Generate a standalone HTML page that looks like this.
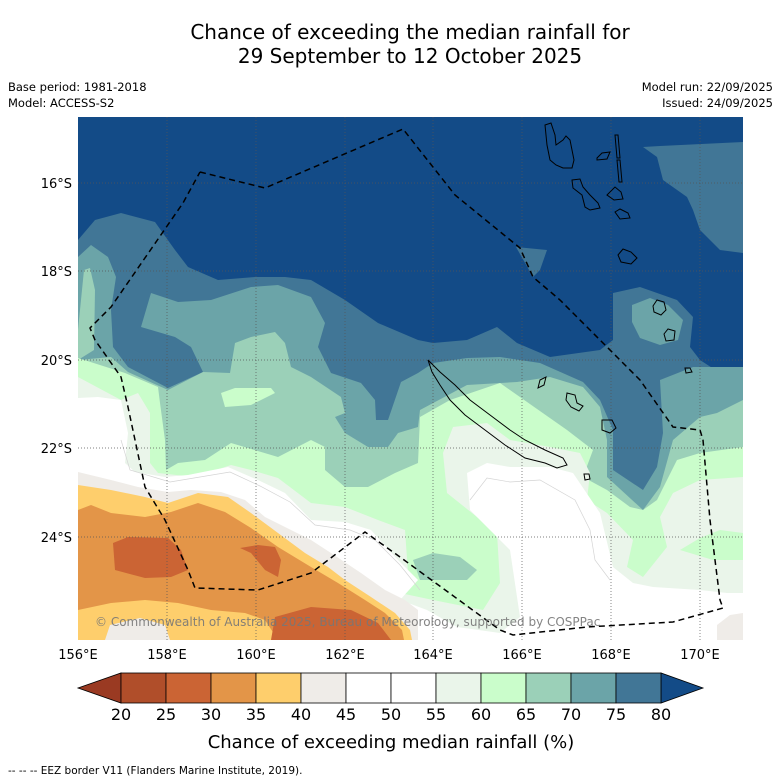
<!DOCTYPE html>
<html><head><meta charset="utf-8">
<style>
body{margin:0;background:#fff;}
svg{display:block;font-family:"DejaVu Sans","Liberation Sans",sans-serif;}
</style></head>
<body>
<svg width="781" height="781" viewBox="0 0 781 781" xmlns="http://www.w3.org/2000/svg">
<text x="410" y="39" font-size="20" text-anchor="middle">Chance of exceeding the median rainfall for</text>
<text x="410" y="63" font-size="20" text-anchor="middle">29 September to 12 October 2025</text>
<text x="8" y="91" font-size="11.5">Base period: 1981-2018</text>
<text x="8" y="107" font-size="11.5">Model: ACCESS-S2</text>
<text x="773" y="91" font-size="11.5" text-anchor="end">Model run: 22/09/2025</text>
<text x="773" y="107" font-size="11.5" text-anchor="end">Issued: 24/09/2025</text>

<defs><clipPath id="mc"><rect x="78" y="117" width="665" height="523"/></clipPath></defs>
<g clip-path="url(#mc)">
<rect x="78" y="117" width="665" height="523" fill="#134b87"/>
<polygon fill="#417696" points="78,240 95,220 121,213 155,222 175,250 188,267 218,280 255,277 285,277 311,280 345,300 378,323 418,340 433,343 467,340 497,327 517,343 550,357 600,350 613,340 613,293 640,287 677,300 693,317 690,347 700,360 720,373 743,377 743,700 78,700"/>
<polygon fill="#417696" points="643,147 660,146 743,142 743,253 720,250 700,230 693,210 687,197 663,180 657,157"/>
<polygon fill="#417696" points="516,247 547,250 540,270 533,277"/>
<polygon fill="#6ba4a8" points="78,257 91,245 108,257 116,277 111,310 113,347 128,367 168,388 203,372 191,347 175,337 141,327 151,293 178,302 211,300 251,287 278,285 311,297 325,323 318,347 331,373 361,383 375,400 376,420 388,420 401,382 418,373 433,363 467,358 500,357 540,363 583,382 600,400 613,430 613,470 643,490 657,467 663,433 660,380 693,367 743,367 743,700 78,700"/>
<polygon fill="#6ba4a8" points="632,305 650,298 668,305 683,320 678,340 660,345 640,338 632,322"/>
<polygon fill="#9bd0b8" points="78,330 84,270 90,268 95,290 94,350 78,360"/>
<polygon fill="#9bd0b8" points="78,360 111,357 128,372 168,390 203,372 230,373 235,343 251,337 275,332 285,343 291,367 311,377 341,397 345,413 335,417 345,433 368,447 388,447 398,433 418,427 420,410 467,385 517,382 550,377 583,387 600,407 607,440 607,477 643,510 660,487 673,440 700,417 717,413 743,400 743,700 78,700"/>
<polygon fill="#cafdcb" points="78,358 125,373 158,387 160,403 165,440 166,470 178,463 205,460 231,443 278,457 311,440 325,447 325,470 345,487 368,487 395,473 418,463 420,417 450,400 500,383 567,430 593,450 583,477 607,490 630,507 643,510 657,500 677,460 700,453 743,447 743,700 78,700"/>
<polygon fill="#cafdcb" points="221,393 235,388 271,388 275,393 251,405 225,407"/>
<polygon fill="#eaf5ea" points="78,377 121,400 138,393 150,413 150,463 158,473 195,477 231,465 251,470 278,478 311,503 345,507 378,520 405,530 408,573 418,580 400,593 433,600 483,610 500,583 497,533 447,493 443,453 453,427 487,423 510,440 550,447 580,453 590,473 587,500 607,513 633,540 627,567 643,577 667,547 660,517 673,493 700,480 743,477 743,700 78,700"/>
<polygon fill="#cafdcb" points="680,550 700,538 720,530 743,533 743,560 713,560"/>
<polygon fill="#9bd0b8" points="413,560 433,553 460,557 477,570 467,580 420,580"/>
<polygon fill="#ffffff" points="78,398 98,397 121,400 128,433 125,463 135,472 165,477 188,475 228,467 258,480 285,493 311,520 345,522 371,530 398,560 418,580 400,600 427,610 457,627 500,633 520,617 510,550 470,510 467,473 487,463 510,467 550,467 573,473 600,513 613,567 633,583 653,587 700,590 727,593 743,593 743,700 78,700"/>
<g fill="none" stroke="#d4d4d4" stroke-width="0.7">
<polyline points="121,440 130,470 170,482 230,472 260,486 290,502 315,525 350,530 375,540 400,565 420,590"/>
<polyline points="470,500 487,478 510,482 540,480 575,500 590,530 595,560 610,580"/>
</g>
<polygon fill="#efece8" points="78,472 111,480 138,487 168,492 191,490 221,492 245,500 265,517 291,530 311,540 331,553 361,573 385,590 405,600 418,610 418,640 78,640"/>
<polygon fill="#efece8" points="717,625 730,615 743,613 743,640 717,640"/>
<polygon fill="#fece6c" points="78,485 111,490 145,497 168,503 198,493 228,497 251,513 278,533 305,553 328,567 345,580 371,597 395,613 410,630 412,640 78,640"/>
<polygon fill="#e39548" points="78,510 91,505 111,513 145,517 171,512 198,503 225,512 251,528 278,547 311,567 338,583 365,600 385,613 402,630 404,640 278,640 265,620 245,613 211,610 178,603 145,600 111,603 78,610"/>
<polygon fill="#efece8" points="105,640 110,625 140,618 165,625 170,640"/>
<polygon fill="#cb6434" points="113,543 128,537 168,538 181,550 188,570 171,577 145,578 115,570"/>
<polygon fill="#cb6434" points="240,548 258,545 275,547 281,560 278,577 265,570 251,553"/>
<polygon fill="#cb6434" points="275,617 311,607 351,610 378,623 391,640 271,640"/>

<g stroke="#555" stroke-width="0.7" stroke-dasharray="1,2">
<line x1="167" y1="117" x2="167" y2="640"/><line x1="256" y1="117" x2="256" y2="640"/><line x1="345" y1="117" x2="345" y2="640"/><line x1="433" y1="117" x2="433" y2="640"/><line x1="522" y1="117" x2="522" y2="640"/><line x1="611" y1="117" x2="611" y2="640"/><line x1="700" y1="117" x2="700" y2="640"/>
<line x1="78" y1="183" x2="743" y2="183"/><line x1="78" y1="271" x2="743" y2="271"/><line x1="78" y1="360" x2="743" y2="360"/><line x1="78" y1="448" x2="743" y2="448"/><line x1="78" y1="537" x2="743" y2="537"/>
</g>

<g fill="none" stroke="#000" stroke-width="1">
<path d="M428,360 L440,372 L455,385 L470,400 L490,415 L510,430 L525,440 L545,450 L563,458 L567,465 L557,468 L545,463 L525,458 L505,445 L485,430 L465,415 L450,400 L440,385 L432,372 Z"/>
<path d="M540,380 l6,-3 l-2,8 l-6,3 Z M567,393 l8,2 l2,8 l6,3 l-4,5 l-8,-4 l-5,-7 Z M602,420 l10,0 l4,8 l-6,5 l-8,-3 Z M584,474 l5,0 l1,5 l-5,1 Z"/>
<path d="M545,125 L551,123 L555,135 L556,145 L563,140 L566,136 L570,140 L574,160 L572,168 L563,168 L556,165 L550,160 L547,145 Z"/>
<path d="M572,180 L580,179 L583,187 L590,195 L598,203 L600,208 L590,210 L585,207 L582,195 L573,188 Z"/>
<path d="M597,158 l5,-5 l8,-1 l-3,7 l-10,1 Z M615,135 l3,0 l2,23 l-3,0 Z M617,160 l3,0 l2,22 l-3,0 Z M607,195 l8,-8 l6,5 l2,7 l-9,1 Z M615,212 l5,-3 l8,4 l2,5 l-10,1 Z M618,255 l5,-6 l8,3 l6,6 l-6,6 l-10,-2 Z"/>
<path d="M653,306 l4,-6 l7,2 l2,8 l-5,5 l-7,-3 Z M664,334 l4,-5 l7,2 l-1,9 l-8,1 Z M685,368 l5,0 l2,4 l-6,1 Z"/>
</g>

<polyline fill="none" stroke="#000" stroke-width="1.5" stroke-dasharray="6,4" points="200,172 265,188 403,129 455,195 520,248 533,277 560,300 607,347 640,380 673,427 700,430 703,440 710,520 720,600 723,608 673,622 587,627 513,635 500,630 400,557 365,532 311,573 258,590 195,588 188,570 165,520 145,487 128,407 121,377 95,340 90,328 95,323 111,307 183,203 200,172"/>
<text x="95" y="626" font-size="12" fill="#777" fill-opacity="0.9">© Commonwealth of Australia 2025, Bureau of Meteorology, supported by COSPPac</text>
</g>

<g font-size="13" text-anchor="end">
<text x="72" y="188">16°S</text><text x="72" y="276">18°S</text><text x="72" y="365">20°S</text><text x="72" y="453">22°S</text><text x="72" y="542">24°S</text>
</g>
<g font-size="13" text-anchor="middle">
<text x="78" y="659">156°E</text><text x="167" y="659">158°E</text><text x="256" y="659">160°E</text><text x="345" y="659">162°E</text><text x="433" y="659">164°E</text><text x="522" y="659">166°E</text><text x="611" y="659">168°E</text><text x="700" y="659">170°E</text>
</g>

<g id="cbar" stroke="#000" stroke-width="0.8"></g>
<g id="cbticks" font-size="16" text-anchor="middle"></g>
<text x="391" y="748" font-size="18" text-anchor="middle">Chance of exceeding median rainfall (%)</text>
<text x="8" y="774" font-size="10.5">--  --  -- EEZ border V11 (Flanders Marine Institute, 2019).</text>
</svg>
<script>
const cbTicks = [20,25,30,35,40,45,50,55,60,65,70,75,80];
const cbColors = ["#b04e2a","#cb6434","#e39548","#fece6c","#efece8","#ffffff","#ffffff","#eaf5ea","#cafdcb","#9bd0b8","#6ba4a8","#417696"];
const cbUnder = "#9a3a22";
const cbOver = "#134b87";
const NS = "http://www.w3.org/2000/svg";
const x0 = 121, x1 = 661, y0 = 673, y1 = 703;
function xs(v){ return x0 + (v - cbTicks[0]) / (cbTicks[cbTicks.length-1] - cbTicks[0]) * (x1 - x0); }
const g = document.getElementById('cbar');
const tg = document.getElementById('cbticks');
const left = document.createElementNS(NS,'polygon');
left.setAttribute('points', `${x0},${y0} ${x0},${y1} 78,${(y0+y1)/2}`);
left.setAttribute('fill', cbUnder);


g.appendChild(left);
const right = document.createElementNS(NS,'polygon');
right.setAttribute('points', `${x1},${y0} ${x1},${y1} 703,${(y0+y1)/2}`);
right.setAttribute('fill', cbOver);


g.appendChild(right);
for (let i = 0; i < cbColors.length; i++) {
  const r = document.createElementNS(NS,'rect');
  r.setAttribute('x', xs(cbTicks[i]));
  r.setAttribute('y', y0);
  r.setAttribute('width', xs(cbTicks[i+1]) - xs(cbTicks[i]));
  r.setAttribute('height', y1 - y0);
  r.setAttribute('fill', cbColors[i]);
  
  
  g.appendChild(r);
}
for (const t of cbTicks) {
  const tx = document.createElementNS(NS,'text');
  tx.setAttribute('x', xs(t));
  tx.setAttribute('y', 720);
  tx.textContent = t;
  
  
  tg.appendChild(tx);
}
</script>
</body></html>
